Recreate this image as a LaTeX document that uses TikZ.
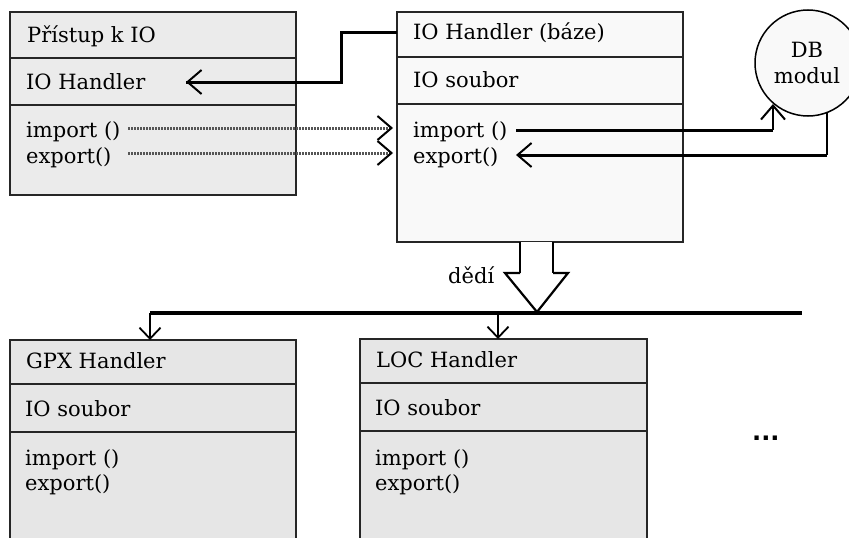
\documentclass[tikz,border=0pt]{standalone}
\usepackage{fontspec}
\setmainfont{DejaVu Serif}
\newfontfamily\dotsfont{DejaVu Sans}
\usetikzlibrary{arrows.meta,calc}
\definecolor{boxA}{HTML}{EBEBEB}
\definecolor{boxB}{HTML}{F9F9F9}
\definecolor{boxC}{HTML}{E6E6E6}
\definecolor{dotgray}{HTML}{555555}
\tikzset{
  umlbox/.style={draw=black!85, line width=1.5pt, anchor=north west, inner sep=0pt, outer sep=0pt},
  divider/.style={draw=black!85, line width=1.3pt},
  lbl/.style={anchor=base west, inner sep=0pt, font=\fontsize{21}{26}\selectfont},
  thickconn/.style={line width=3pt, line join=miter},
  thinconn/.style={line width=1.3pt},
  barb/.style={-{Straight Barb[length=14pt,width=24pt,line width=2pt]}},
  smallbarb/.style={-{Straight Barb[length=11pt,width=21pt,line width=1.8pt]}},
  dotconn/.style={draw=dotgray, line width=3pt, dash pattern=on 1.5pt off 1.5pt},
}
\begin{document}
\begin{tikzpicture}[x=1pt,y=-1pt]
\useasboundingbox (0,0) rectangle (849,538);
\clip (0,0) rectangle (849,538);

% ---- Box 1: Pristup k IO
\node[umlbox, fill=boxA, minimum width=286pt, minimum height=183pt] (b1) at (10,12) {};
\draw[divider] (10,58) -- (296,58);
\draw[divider] (10,105) -- (296,105);
\node[lbl] (b1t) at (27,42) {Přístup k IO};
\node[lbl] (b1a) at (26,89) {IO Handler};
\node[lbl] (b1i) at (26,137) {import ()};
\node[lbl] (b1e) at (26,163) {export()};

% ---- Box 2: IO Handler (baze)
\node[umlbox, fill=boxB, minimum width=286pt, minimum height=230pt] (b2) at (397,12) {};
\draw[divider] (397,57) -- (683,57);
\draw[divider] (397,104) -- (683,104);
\node[lbl] (b2t) at (413,39.5) {IO Handler (báze)};
\node[lbl] (b2a) at (413,87) {IO soubor};
\node[lbl] (b2i) at (413,137) {import ()};
\node[lbl] (b2e) at (413,163) {export()};

% ---- DB modul
\node[circle, draw=black, line width=1.5pt, fill=boxB, minimum size=106pt, inner sep=0pt] (db) at (808,63) {};
\node[anchor=base, inner sep=0pt, font=\fontsize{21}{26}\selectfont] (dbt1) at (807,57) {DB};
\node[anchor=base, inner sep=0pt, font=\fontsize{21}{26}\selectfont] (dbt2) at (807,83) {modul};

% ---- Box 3: GPX Handler
\node[umlbox, fill=boxC, minimum width=286pt, minimum height=210pt] (b3) at (10,340) {};
\draw[divider] (10,384) -- (296,384);
\draw[divider] (10,432) -- (296,432);
\node[lbl] (b3t) at (26,368) {GPX Handler};
\node[lbl] (b3a) at (25,416) {IO soubor};
\node[lbl] (b3i) at (25,465) {import ()};
\node[lbl] (b3e) at (25,490) {export()};

% ---- Box 4: LOC Handler
\node[umlbox, fill=boxC, minimum width=287pt, minimum height=210pt] (b4) at (360,339) {};
\draw[divider] (360,383) -- (647,383);
\draw[divider] (360,431) -- (647,431);
\node[lbl] (b4t) at (376,367) {LOC Handler};
\node[lbl] (b4a) at (375,415) {IO soubor};
\node[lbl] (b4i) at (375,465) {import ()};
\node[lbl] (b4e) at (375,490) {export()};

% ---- dots
\node[anchor=base west, inner sep=0pt, font=\dotsfont\bfseries\fontsize{24}{24}\selectfont] (more) at (752,440) {...};

% ---- coordinates
\coordinate (hIn) at (397,32);
\coordinate (hK1) at (341,32);
\coordinate (hK2) at (341,82);
\coordinate (hTip) at (186,82);
\coordinate (d1s) at (128,128);
\coordinate (d1e) at (393,128);
\coordinate (d2s) at (128,153);
\coordinate (d2e) at (393,153);
\coordinate (iS) at (516,130);
\coordinate (iK) at (773,130);
\coordinate (iT) at (773,104);
\coordinate (eS) at (827,113);
\coordinate (eK) at (827,155);
\coordinate (eT) at (516,155);

% ---- connectors
\draw[thickconn] (hIn) -- (hK1) -- (hK2) -- (hTip);
\draw[barb, line width=3pt] ($(hTip)+(2,0)$) -- (hTip);

\draw[dotconn] (d1s) -- ($(d1e)+(-3,0)$);
\draw[dotconn] (d2s) -- ($(d2e)+(-3,0)$);
\draw[barb] ($(d1e)+(-4,0)$) -- (d1e);
\draw[barb] ($(d2e)+(-4,0)$) -- (d2e);

\draw[thickconn] (iS) -- (iK);
\draw[thinconn, barb] (iK) -- (iT);
\draw[thinconn] (eS) -- (eK);
\draw[thickconn, barb] (eK) -- (eT);

% ---- inheritance
\coordinate (sL) at (520,242);
\coordinate (sR) at (553,242);
\coordinate (tip) at (537,312);
\draw[fill=white, draw=none] (520,242) -- (520,273) -- (505,273) -- (tip) -- (568,273) -- (553,273) -- (553,242) -- cycle;
\draw[thinconn] (sL) -- (520,273);
\draw[thinconn] (sR) -- (553,273);
\draw[line width=2.2pt, line join=miter] (520,273) -- (505,273) -- (tip) -- (568,273) -- (553,273);
\node[anchor=base west, inner sep=0pt, font=\fontsize{21}{26}\selectfont] (dedi) at (448,283) {dědí};

\coordinate (busL) at (150,313);
\coordinate (busR) at (802,313);
\draw[line width=3.5pt] (busL) -- (busR);
\draw[thinconn, smallbarb] (busL) -- (b3.north west -| busL);
\draw[thinconn, smallbarb] (498,313) -- (b4.north west -| 498,313);
\end{tikzpicture}
\end{document}
